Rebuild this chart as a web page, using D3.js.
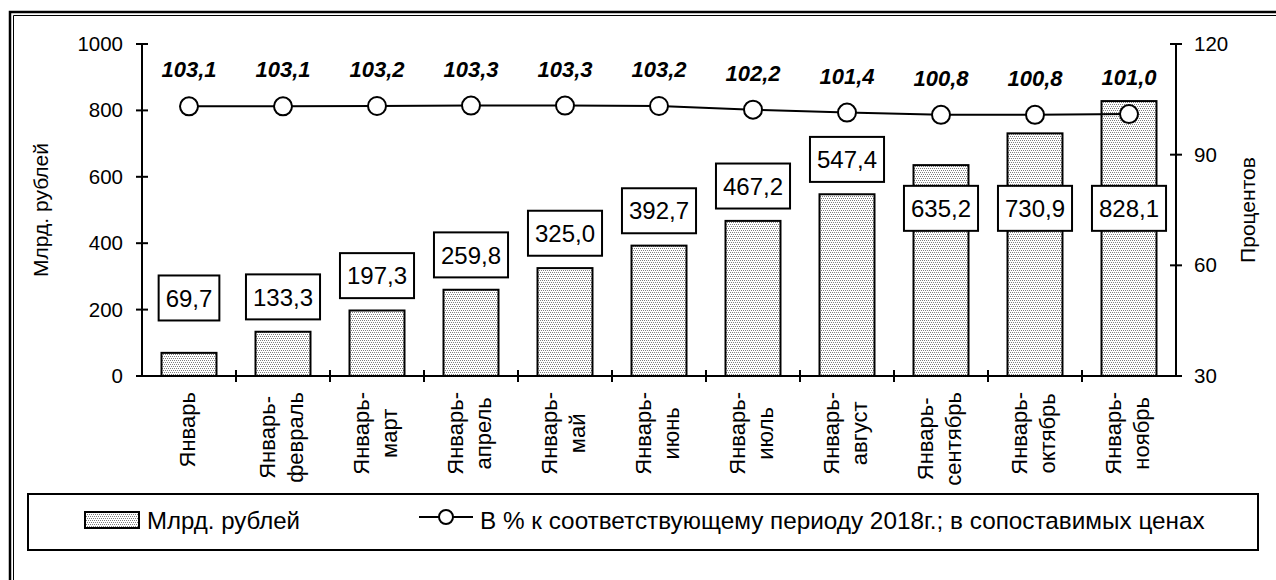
<!DOCTYPE html>
<html><head><meta charset="utf-8">
<script src="https://cdn.jsdelivr.net/npm/d3@7"></script>
<style>
html,body{margin:0;padding:0;background:#fff;}
svg{display:block;font-family:"Liberation Sans",Arial,sans-serif;}
</style></head>
<body>
<svg id="chart" width="1276" height="580"></svg>
<script>
const categories = ["Январь","Январь-февраль","Январь-март","Январь-апрель","Январь-май","Январь-июнь","Январь-июль","Январь-август","Январь-сентябрь","Январь-октябрь","Январь-ноябрь"];
const values = [69.7,133.3,197.3,259.8,325.0,392.7,467.2,547.4,635.2,730.9,828.1];
const percents = [103.1,103.1,103.2,103.3,103.3,103.2,102.2,101.4,100.8,100.8,101.0];
const leftTicks = [0,200,400,600,800,1000];
const rightTicks = [30,60,90,120];
const leftTitle = "Млрд. рублей";
const rightTitle = "Процентов";
const barLegend = "Млрд. рублей";
const lineLegend = "В % к соответствующему периоду 2018г.; в сопоставимых ценах";

const fmt = v => d3.format(".1f")(v).replace(".", ",");
const svg = d3.select("#chart");
const W = 1276, H = 580;
const plot = {left:142, right:1176, top:44, bottom:376};

// pattern
const defs = svg.append("defs");
const pat = defs.append("pattern").attr("id","dots").attr("width",4).attr("height",4).attr("patternUnits","userSpaceOnUse");
pat.append("rect").attr("width",4).attr("height",4).attr("fill","#fff");
[[0,0],[2,0],[1,2],[3,2]].forEach(([x,y])=>pat.append("rect").attr("x",x).attr("y",y).attr("width",1).attr("height",1).attr("fill","#808080"));

// border (double line, top + left)
svg.append("path").attr("d",`M10,${H} V12 H${W}`).attr("fill","none").attr("stroke","#000").attr("stroke-width",2.5);
svg.append("path").attr("d",`M13.5,${H} V15.5 H${W}`).attr("fill","none").attr("stroke","#000").attr("stroke-width",1);

const x = d3.scaleBand().domain(categories).range([plot.left, plot.right]).paddingInner(0).paddingOuter(0);
const yL = d3.scaleLinear().domain([0,1000]).range([plot.bottom, plot.top]);
const yR = d3.scaleLinear().domain([30,120]).range([plot.bottom, plot.top]);
const bw = x.bandwidth()*0.585;
const cx = c => x(c) + x.bandwidth()/2;

// bars
svg.append("g").selectAll("rect").data(values).join("rect")
  .attr("x",(d,i)=>cx(categories[i])-bw/2).attr("y",d=>yL(d))
  .attr("width",bw).attr("height",d=>yL(0)-yL(d))
  .attr("fill","url(#dots)").attr("stroke","#000").attr("stroke-width",2);

// axes
const ax = svg.append("g").attr("stroke","#000").attr("stroke-width",2);
ax.append("line").attr("x1",plot.left).attr("x2",plot.left).attr("y1",yL(1000)).attr("y2",yL(0));
ax.append("line").attr("x1",plot.right).attr("x2",plot.right).attr("y1",yR(120)).attr("y2",yR(30));
ax.append("line").attr("x1",plot.left).attr("x2",plot.right).attr("y1",plot.bottom).attr("y2",plot.bottom);
leftTicks.forEach(t=>ax.append("line").attr("x1",plot.left-6).attr("x2",plot.left+6).attr("y1",yL(t)).attr("y2",yL(t)));
rightTicks.forEach(t=>ax.append("line").attr("x1",plot.right-6).attr("x2",plot.right+6).attr("y1",yR(t)).attr("y2",yR(t)));
categories.forEach((c,i)=>{ if(i>0) ax.append("line").attr("x1",x(c)).attr("x2",x(c)).attr("y1",plot.bottom-6).attr("y2",plot.bottom+6); });

svg.append("g").selectAll("text").data(leftTicks).join("text")
  .attr("x",plot.left-19).attr("y",d=>yL(d)+7).attr("text-anchor","end").attr("font-size",20.5).text(d=>d);
svg.append("g").selectAll("text").data(rightTicks).join("text")
  .attr("x",plot.right+18).attr("y",d=>yR(d)+7).attr("text-anchor","start").attr("font-size",20.5).text(d=>d);

// axis titles
svg.append("text").attr("transform",`translate(48,${(plot.top+plot.bottom)/2}) rotate(-90)`).attr("text-anchor","middle").attr("font-size",21).text(leftTitle);
svg.append("text").attr("transform",`translate(1255,${(plot.top+plot.bottom)/2}) rotate(-90)`).attr("text-anchor","middle").attr("font-size",21).text(rightTitle);

// category labels
categories.forEach(c=>{
  const lines = c.split(/(?<=-)/);
  const g = svg.append("g");
  const offs = lines.length===1 ? [6] : [-8,20];
  const texts = lines.map((l,j)=>g.append("text").attr("font-size",22).attr("text-anchor","middle").text(l));
  const maxLen = d3.max(texts, t=>t.node().getComputedTextLength());
  const cy = plot.bottom + 16 + maxLen/2;
  texts.forEach((t,j)=>t.attr("transform",`translate(${cx(c)+offs[j]},${cy}) rotate(-90)`));
});

// bar value labels
const lblFont = 24;
values.forEach((v,i)=>{
  let cv = Math.max(v + 105, 235);
  if (cv > 660) cv = 505;
  const cyy = yL(cv);
  const g = svg.append("g");
  const r = g.append("rect");
  const t = g.append("text").attr("x",cx(categories[i])).attr("y",cyy+0.36*lblFont).attr("text-anchor","middle").attr("font-size",lblFont).text(fmt(v));
  const tw = t.node().getComputedTextLength();
  r.attr("x",cx(categories[i])-tw/2-7).attr("y",cyy-22.5).attr("width",tw+14).attr("height",45)
   .attr("fill","#fff").attr("stroke","#000").attr("stroke-width",2);
});

// line
const line = d3.line().x((d,i)=>cx(categories[i])).y(d=>yR(d));
svg.append("path").datum(percents).attr("d",line).attr("fill","none").attr("stroke","#000").attr("stroke-width",2);
svg.append("g").selectAll("circle").data(percents).join("circle")
  .attr("cx",(d,i)=>cx(categories[i])).attr("cy",d=>yR(d)).attr("r",9)
  .attr("fill","#fff").attr("stroke","#000").attr("stroke-width",2);
svg.append("g").selectAll("text").data(percents).join("text")
  .attr("x",(d,i)=>cx(categories[i])).attr("y",d=>yR(d)-29)
  .attr("text-anchor","middle").attr("font-size",22).attr("font-weight","bold").attr("font-style","italic").text(d=>fmt(d));

// legend
const lg = svg.append("g");
lg.append("rect").attr("x",28).attr("y",494).attr("width",1230).attr("height",56).attr("fill","#fff").attr("stroke","#000").attr("stroke-width",2);
lg.append("rect").attr("x",85).attr("y",512).attr("width",54).attr("height",16).attr("fill","url(#dots)").attr("stroke","#000").attr("stroke-width",2);
lg.append("text").attr("x",147).attr("y",529).attr("font-size",24).text(barLegend);
lg.append("line").attr("x1",419).attr("x2",473).attr("y1",517).attr("y2",517).attr("stroke","#000").attr("stroke-width",2);
lg.append("circle").attr("cx",446).attr("cy",517).attr("r",7).attr("fill","#fff").attr("stroke","#000").attr("stroke-width",2);
lg.append("text").attr("x",480).attr("y",529).attr("font-size",24.3).text(lineLegend);
</script>
</body></html>
